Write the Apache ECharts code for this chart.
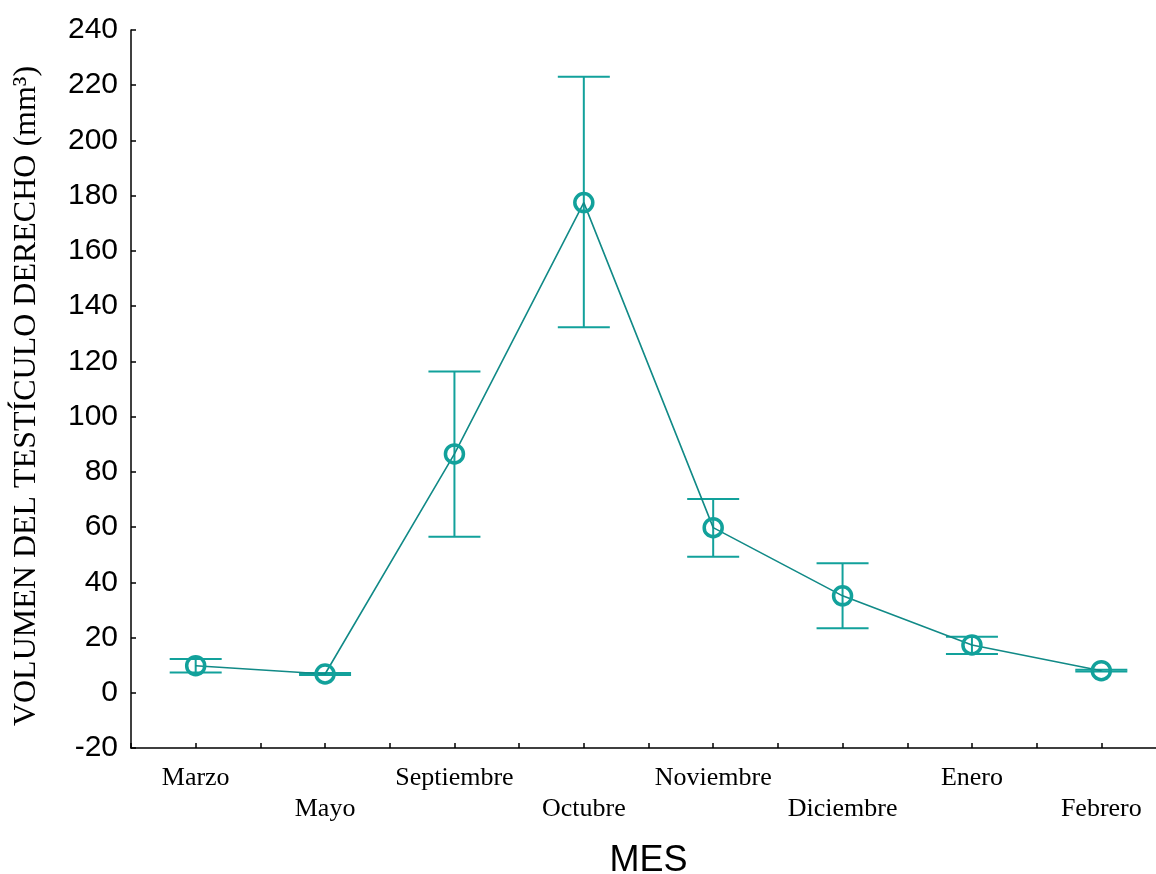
<!DOCTYPE html>
<html>
<head>
<meta charset="utf-8">
<script src="https://cdn.jsdelivr.net/npm/echarts@6/dist/echarts.min.js"></script>
<style>
  html, body { margin: 0; padding: 0; background: #ffffff; }
  #chart { width: 1156px; height: 874px; }
</style>
</head>
<body>
<div id="chart"></div>
<script>
// Months sampled and the right-testicle volume (mm³): mean with upper/lower limits
const months = ['Marzo', 'Mayo', 'Septiembre', 'Octubre', 'Noviembre', 'Diciembre', 'Enero', 'Febrero'];
const meanVolume = [9.8, 6.8, 86.5, 177.5, 59.8, 35.1, 17.3, 8.0];
const upperLimit = [12.2, 7.2, 116.3, 223.1, 70.2, 46.9, 20.3, 8.3];
const lowerLimit = [7.3, 6.4, 56.5, 132.4, 49.3, 23.4, 14.0, 7.7];
const yTicks = { min: -20, max: 240, step: 20 };

const TEAL = '#12a19b';
const TEAL_LINE = '#118a87';

// month i sits at x = i + 1 on a numeric axis with half-step ticks
const meanPoints = months.map((m, i) => [i + 1, meanVolume[i]]);
const barPoints = months.map((m, i) => [i + 1, lowerLimit[i], upperLimit[i]]);

const chart = echarts.init(document.getElementById('chart'), null, { renderer: 'canvas' });

chart.setOption({
  animation: false,
  backgroundColor: '#ffffff',
  grid: { left: 131, top: 30, width: 1035, height: 718, containLabel: false, outerBoundsMode: 'none' },
  xAxis: {
    type: 'value',
    min: 0.5,
    max: 8.5,
    interval: 0.5,
    name: 'MES',
    nameLocation: 'middle',
    nameGap: 95,
    nameTextStyle: { fontFamily: 'Liberation Sans, Arial, sans-serif', fontSize: 36, color: '#000' },
    axisLine: { onZero: false, lineStyle: { color: '#000', width: 1.5 } },
    axisTick: { inside: true, length: 5, lineStyle: { color: '#000', width: 1.5 } },
    splitLine: { show: false },
    axisLabel: {
      margin: 15,
      fontFamily: 'Liberation Serif, Times New Roman, serif',
      fontSize: 26,
      lineHeight: 31,
      color: '#000',
      formatter: function (v) {
        if (Math.abs(v - Math.round(v)) > 1e-6) return '';
        const i = Math.round(v) - 1;
        if (i < 0 || i >= months.length) return '';
        return i % 2 === 0 ? months[i] : '\n' + months[i];
      }
    }
  },
  yAxis: {
    type: 'value',
    min: yTicks.min,
    max: yTicks.max,
    interval: yTicks.step,
    name: 'VOLUMEN DEL TESTÍCULO DERECHO (mm³)',
    nameLocation: 'middle',
    nameRotate: 90,
    nameGap: 88,
    nameTextStyle: {
      fontFamily: 'Liberation Serif, Times New Roman, serif',
      fontSize: 32,
      color: '#000',
      padding: [0, 14, 0, 0]
    },
    axisLine: { show: true, onZero: false, lineStyle: { color: '#000', width: 1.5 } },
    axisTick: { show: true, inside: true, length: 5, lineStyle: { color: '#000', width: 1.5 } },
    splitLine: { show: false },
    axisLabel: {
      margin: 13,
      fontFamily: 'Liberation Sans, Arial, sans-serif',
      fontSize: 30,
      color: '#000'
    }
  },
  series: [
    {
      // whiskers with caps at the upper and lower limits
      type: 'custom',
      data: barPoints,
      encode: { x: 0, y: [1, 2] },
      z: 2,
      renderItem: function (params, api) {
        const x = api.value(0);
        const lo = api.coord([x, api.value(1)]);
        const hi = api.coord([x, api.value(2)]);
        const half = 26;
        const style = { stroke: TEAL, lineWidth: 2, fill: null };
        return {
          type: 'group',
          children: [
            { type: 'line', shape: { x1: hi[0], y1: hi[1], x2: lo[0], y2: lo[1] }, style: style },
            { type: 'line', shape: { x1: hi[0] - half, y1: hi[1], x2: hi[0] + half, y2: hi[1] }, style: style },
            { type: 'line', shape: { x1: lo[0] - half, y1: lo[1], x2: lo[0] + half, y2: lo[1] }, style: style }
          ]
        };
      }
    },
    {
      type: 'line',
      data: meanPoints,
      z: 3,
      lineStyle: { color: TEAL_LINE, width: 1.6 },
      symbol: 'circle',
      symbolSize: 18,
      itemStyle: { color: 'rgba(255,255,255,0)', borderColor: TEAL, borderWidth: 3.5 }
    }
  ]
});
</script>
</body>
</html>
